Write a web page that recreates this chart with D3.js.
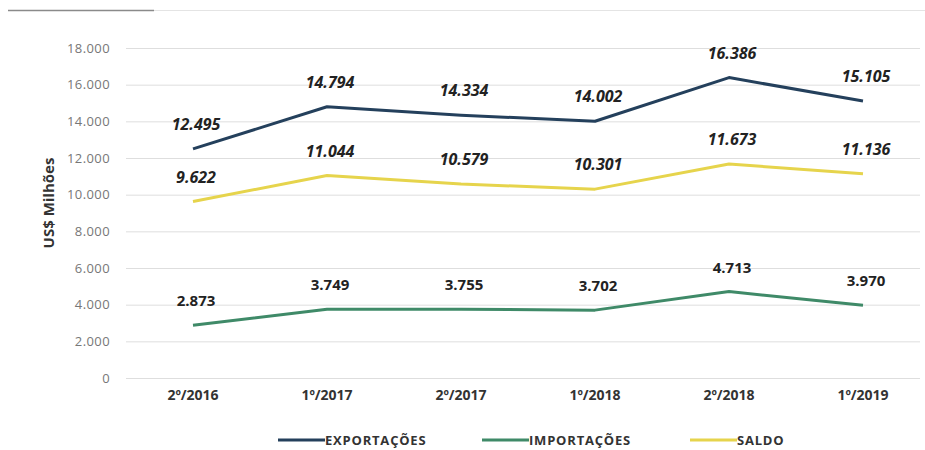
<!DOCTYPE html>
<html><head><meta charset="utf-8">
<script src="https://cdn.jsdelivr.net/npm/d3@7"></script>
<style>body{margin:0;background:#fff}svg{display:block}</style>
</head><body>
<svg id="c" width="925" height="450"></svg>
<script>
const categories = ["2º/2016","1º/2017","2º/2017","1º/2018","2º/2018","1º/2019"];
const exportacoes = [12495,14794,14334,14002,16386,15105];
const importacoes = [2873,3749,3755,3702,4713,3970];
const saldo = [9622,11044,10579,10301,11673,11136];
const yTicks = [0,2000,4000,6000,8000,10000,12000,14000,16000,18000];
const seriesNames = ["EXPORTAÇÕES","IMPORTAÇÕES","SALDO"];
const seriesColors = ["#24405c","#3f8a68","#e6d44c"];

const svg = d3.select("#c");
const x = d3.scaleBand().domain(categories).range([126, 930]);
const y = d3.scaleLinear().domain([0,18000]).range([378,48]);
const fmt = v => d3.format(",")(v).replace(/,/g,".");

// header decoration
svg.append("line").attr("x1",8).attr("x2",925).attr("y1",10.5).attr("y2",10.5).attr("stroke","#e4e4e4").attr("stroke-width",1);
svg.append("line").attr("x1",8).attr("x2",154).attr("y1",10.5).attr("y2",10.5).attr("stroke","#8a8a8a").attr("stroke-width",1.5);

// grid
const yAxis = d3.axisLeft(y).tickValues(yTicks).tickFormat(fmt).tickSize(-(920-126)).tickPadding(16);
const ga = svg.append("g").attr("transform","translate(126,0)").call(yAxis);
ga.select(".domain").remove();
ga.selectAll(".tick line").attr("stroke","#dedede").attr("stroke-width",1);
ga.selectAll(".tick text").attr("fill","#777").style("font-family","Open Sans").style("font-size","13px").style("letter-spacing","0.4px");

// y title
svg.append("text").attr("transform","translate(54,203) rotate(-90)").attr("text-anchor","middle")
  .style("font-family","Open Sans").style("font-weight","bold").style("font-size","15px").attr("fill","#333").text("US$ Milhões");

// x axis
const xAxis = d3.axisBottom(x).tickSize(0).tickPadding(0);
const gx = svg.append("g").attr("transform","translate(0,390)").call(xAxis);
gx.select(".domain").remove();
gx.selectAll(".tick text").attr("fill","#333").style("font-family","Open Sans").style("font-weight","bold").style("font-size","14px");

const cx = c => x(c) + x.bandwidth()/2;
const line = d3.line().x((d,i)=>cx(categories[i])).y(d=>y(d));
const all = [exportacoes, importacoes, saldo];
all.forEach((s,k)=>{
  svg.append("path").datum(s).attr("d",line).attr("fill","none").attr("stroke",seriesColors[k]).attr("stroke-width",3).attr("stroke-linejoin","round");
});
all.forEach((s,k)=>{
  svg.append("g").selectAll("text").data(s).join("text")
    .attr("x",(d,i)=>cx(categories[i])+3).attr("y",d=>y(d)-19)
    .attr("text-anchor","middle")
    .style("font-family","Open Sans").style("font-weight","bold")
    .style("font-style", k===1 ? "normal" : "italic")
    .style("font-size", k===1 ? "15px" : "16px")
    .attr("fill","#222").text(fmt);
});

// legend
const legX = [278, 482, 690];
seriesNames.forEach((n,k)=>{
  svg.append("line").attr("x1",legX[k]).attr("x2",legX[k]+47).attr("y1",440).attr("y2",440).attr("stroke",seriesColors[k]).attr("stroke-width",3);
  svg.append("text").attr("x",legX[k]+47).attr("y",445).style("font-family","Open Sans").style("font-weight","bold").style("font-size","13px").style("letter-spacing","0.8px").attr("fill","#333").text(n);
});
</script>
</body></html>
